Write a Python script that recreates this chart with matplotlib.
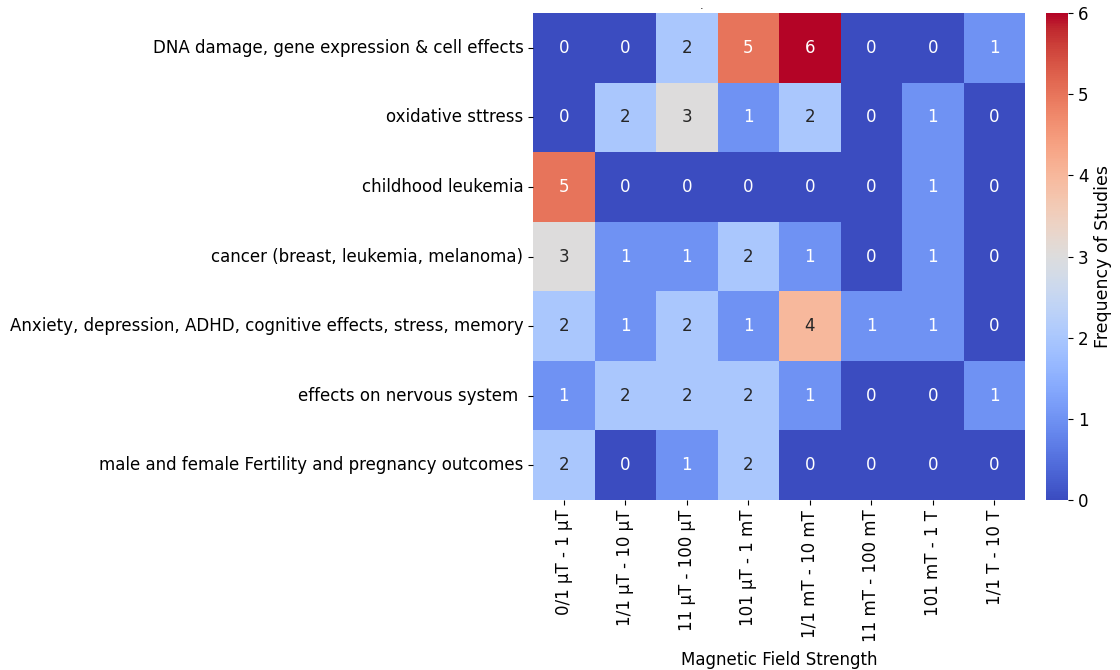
import matplotlib
matplotlib.use("Agg")
import matplotlib.pyplot as plt
import seaborn as sns
import numpy as np
import pandas as pd

effects = [
    "DNA damage, gene expression & cell effects",
    "oxidative sttress",
    "childhood leukemia",
    "cancer (breast, leukemia, melanoma)",
    "Anxiety, depression, ADHD, cognitive effects, stress, memory",
    "effects on nervous system ",
    "male and female Fertility and pregnancy outcomes",
]
field_ranges = [
    "0/1 µT - 1 µT",
    "1/1 µT - 10 µT",
    "11 µT - 100 µT",
    "101 µT - 1 mT",
    "1/1 mT - 10 mT",
    "11 mT - 100 mT",
    "101 mT - 1 T",
    "1/1 T - 10 T",
]
dna_damage = [0, 0, 2, 5, 6, 0, 0, 1]
oxidative = [0, 2, 3, 1, 2, 0, 1, 0]
leukemia_child = [5, 0, 0, 0, 0, 0, 1, 0]
cancer = [3, 1, 1, 2, 1, 0, 1, 0]
anxiety = [2, 1, 2, 1, 4, 1, 1, 0]
nervous = [1, 2, 2, 2, 1, 0, 0, 1]
fertility = [2, 0, 1, 2, 0, 0, 0, 0]

counts = pd.DataFrame(
    [dna_damage, oxidative, leukemia_child, cancer, anxiety, nervous, fertility],
    index=effects, columns=field_ranges,
)

fig = plt.figure(figsize=(11.2, 6.7), dpi=100)
ax = fig.add_axes([0.476, 0.2537, 0.4393, 0.7269])
cax = fig.add_axes([0.934, 0.2537, 0.0196, 0.7269])

sns.heatmap(counts, ax=ax, cbar_ax=cax, cmap="coolwarm", vmin=0, vmax=6,
            annot=True, fmt="d", annot_kws={"fontsize": 12},
            cbar_kws={"label": "Frequency of Studies"})

ax.tick_params(axis="y", labelsize=12, rotation=0)
ax.tick_params(axis="x", labelsize=12, rotation=90)
ax.set_xlabel("Magnetic Field Strength", fontsize=12, labelpad=6)
ax.set_ylabel("")
cax.tick_params(labelsize=12)
cax.yaxis.label.set_size(12.5)
fig.text(0.626, 0.998, ".", fontsize=8, ha="center", va="top")

fig.savefig("out.png", dpi=100)
